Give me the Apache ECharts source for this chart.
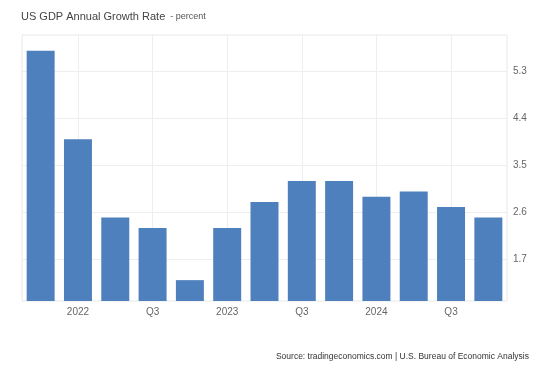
<!DOCTYPE html>
<html>
<head>
<meta charset="utf-8">
<script src="https://cdn.jsdelivr.net/npm/echarts@6/dist/echarts.min.js"></script>
<style>html,body{margin:0;padding:0;background:#fff}#c{width:540px;height:369px}</style>
</head>
<body>
<div id="c"></div>
<script>
// Data
const categories = ['2021 Q4','2022 Q1','2022 Q2','2022 Q3','2022 Q4','2023 Q1','2023 Q2','2023 Q3','2023 Q4','2024 Q1','2024 Q2','2024 Q3','2024 Q4'];
const tickLabels = ['', '2022', '', 'Q3', '', '2023', '', 'Q3', '', '2024', '', 'Q3', ''];
const growthValues = [5.7, 4.0, 2.5, 2.3, 1.3, 2.3, 2.8, 3.2, 3.2, 2.9, 3.0, 2.7, 2.5];
const yTicks = [1.7, 2.6, 3.5, 4.4, 5.3];
const titleText = 'US GDP Annual Growth Rate';
const subtitleText = '- percent';
const sourceText = 'Source: tradingeconomics.com | U.S. Bureau of Economic Analysis';

const FONT = '"Liberation Sans", Arial, sans-serif';
const gridColor = '#eeeeee';

const chart = echarts.init(document.getElementById('c'), null, {renderer: 'canvas'});

const vLines = [];
tickLabels.forEach((t, i) => { if (t) vLines.push({xAxis: i}); });
const hLines = yTicks.map(v => ({yAxis: v}));

chart.setOption({
  animation: false,
  backgroundColor: '#fff',
  title: {
    left: 21, top: 8, padding: 0,
    text: '{a|' + titleText + '} {b|' + subtitleText + '}',
    textStyle: {
      fontWeight: 'normal',
      rich: {
        a: {fontSize: 11, color: '#444', fontFamily: FONT, fontWeight: 'normal'},
        b: {fontSize: 9, color: '#555', fontFamily: FONT, fontWeight: 'normal'}
      }
    }
  },
  graphic: [{
    type: 'text', right: 11, top: 352,
    style: {text: sourceText, fontSize: 8.5, fill: '#333', fontFamily: FONT}
  }],
  grid: {left: 22, right: 33, top: 35, bottom: 68, show: true, borderColor: '#e8e8e8', borderWidth: 1},
  xAxis: {
    type: 'category',
    data: categories,
    axisLine: {show: false},
    axisTick: {show: false},
    splitLine: {show: false},
    axisLabel: {
      interval: (idx) => tickLabels[idx] !== '',
      formatter: (v, idx) => tickLabels[idx],
      color: '#666', fontSize: 10, fontFamily: FONT, margin: 6
    }
  },
  yAxis: {
    type: 'value',
    position: 'right',
    min: 0.9, max: 6.0, interval: 0.1,
    axisLine: {show: false},
    axisTick: {show: false},
    splitLine: {show: false},
    axisLabel: {
      showMinLabel: false, showMaxLabel: false,
      formatter: (v) => {
        const t = yTicks.find(x => Math.abs(x - v) < 1e-6);
        return t === undefined ? '' : t.toFixed(1);
      },
      color: '#666', fontSize: 10, fontFamily: FONT, margin: 6
    }
  },
  series: [{
    type: 'bar',
    data: growthValues,
    barCategoryGap: '25%',
    itemStyle: {color: '#4d80bd'},
    markLine: {
      z: 1,
      silent: true,
      symbol: ['none', 'none'],
      label: {show: false},
      lineStyle: {color: gridColor, width: 1, type: 'solid'},
      emphasis: {disabled: true},
      data: vLines.concat(hLines)
    }
  }]
});
</script>
</body>
</html>
